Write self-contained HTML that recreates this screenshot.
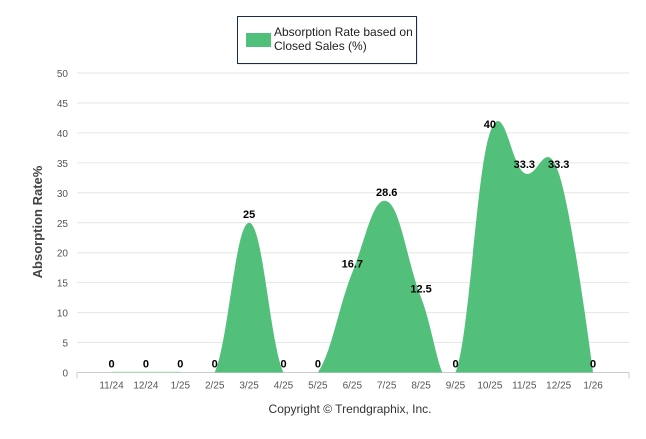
<!DOCTYPE html>
<html><head><meta charset="utf-8"><style>
body{margin:0;background:#fff;width:646px;height:434px;overflow:hidden;font-family:"Liberation Sans",Arial,sans-serif}
</style></head><body>
<svg width="646" height="434" xmlns="http://www.w3.org/2000/svg">
<defs><clipPath id="plotclip"><rect x="77" y="60" width="552" height="312.5"/></clipPath></defs>
<g>
<rect x="237.5" y="16.5" width="179" height="47" fill="#888" opacity="0.3" transform="translate(1,1)"/>
<rect x="237.5" y="16.5" width="179" height="47" fill="#fff" stroke="#1a2a50" stroke-width="1"/>
<rect x="246" y="33" width="25" height="14" fill="#52c07b"/>
<text x="274" y="36" font-size="12" fill="#222">Absorption Rate based on</text>
<text x="274" y="50" font-size="12" fill="#222">Closed Sales (%)</text>
</g>
<g id="grid"></g>
<g id="series" clip-path="url(#plotclip)"></g>
<g id="labels"></g>
<text transform="translate(42,222) rotate(-90)" text-anchor="middle" font-size="13" font-weight="bold" fill="#444">Absorption Rate%</text>
<text x="350" y="413" text-anchor="middle" font-size="12" fill="#333">Copyright © Trendgraphix, Inc.</text>
</svg>
<script>
const categories=["11/24","12/24","1/25","2/25","3/25","4/25","5/25","6/25","7/25","8/25","9/25","10/25","11/25","12/25","1/26"];
const values=[0,0,0,0,25,0,0,16.7,28.6,12.5,0,40,33.3,33.3,0];
const yTicks=[0,5,10,15,20,25,30,35,40,45,50];
const NS="http://www.w3.org/2000/svg";
const x0=111.5,dx=34.4,yBase=372.5,yTop=73,yMax=50;
function xs(i){return x0+dx*i;}
function ys(v){return yBase-(yBase-yTop)*v/yMax;}
function mk(t,a,p){const e=document.createElementNS(NS,t);for(const k in a)e.setAttribute(k,a[k]);p.appendChild(e);return e;}
const grid=document.getElementById('grid');
yTicks.forEach(t=>{
 const l=mk('line',{x1:77,x2:629,y1:ys(t),y2:ys(t),stroke:t===0?'#ccc':'#e6e6e6','stroke-width':1},grid);
 
 
 const tx=mk('text',{x:68,y:ys(t)+4,'text-anchor':'end','font-size':10,fill:'#555'},grid);
 tx.textContent=t;
 
 
});
mk('line',{x1:77,x2:77,y1:yBase,y2:yBase+6,stroke:'#ccc'},grid);
mk('line',{x1:629,x2:629,y1:yBase,y2:yBase+6,stroke:'#ccc'},grid);
categories.forEach((c,i)=>{
 const tx=mk('text',{x:xs(i),y:yBase+16,'text-anchor':'middle','font-size':10,fill:'#555'},grid);
 tx.textContent=c;
 
 
});
const pts=values.map((v,i)=>({x:xs(i),y:ys(v)}));
const sm=1.5,den=2.5;
const ctl=pts.map((p,i)=>{
 if(i===0||i===pts.length-1)return {lx:p.x,ly:p.y,rx:p.x,ry:p.y};
 const a=pts[i-1],n=pts[i+1];
 let lx=(sm*p.x+a.x)/den,ly=(sm*p.y+a.y)/den,rx=(sm*p.x+n.x)/den,ry=(sm*p.y+n.y)/den;
 const corr=((ry-ly)*(rx-p.x))/(rx-lx)+p.y-ry;ly+=corr;ry+=corr;
 return {lx,ly,rx,ry};
});
let d='M'+pts[0].x+','+pts[0].y;
for(let i=1;i<pts.length;i++){d+=' C'+ctl[i-1].rx+','+ctl[i-1].ry+' '+ctl[i].lx+','+ctl[i].ly+' '+pts[i].x+','+pts[i].y;}
const ser=document.getElementById('series');
const area=mk('path',{d:d+' L'+pts[pts.length-1].x+','+(yBase+40)+' L'+pts[0].x+','+(yBase+40)+' Z',fill:'#52c07b'},ser);


const line=mk('path',{d:'M'+pts[0].x+','+yBase+' L'+pts[2].x+','+yBase,fill:'none',stroke:'#8fd8a8','stroke-width':1.5},ser);


const lab=document.getElementById('labels');
values.forEach((v,i)=>{
 const t=mk('text',{x:xs(i),y:ys(v)-5,'text-anchor':'middle','font-size':11,'font-weight':'bold',fill:'#000'},lab);
 t.textContent=v;
 
 
});
</script>
</body></html>
